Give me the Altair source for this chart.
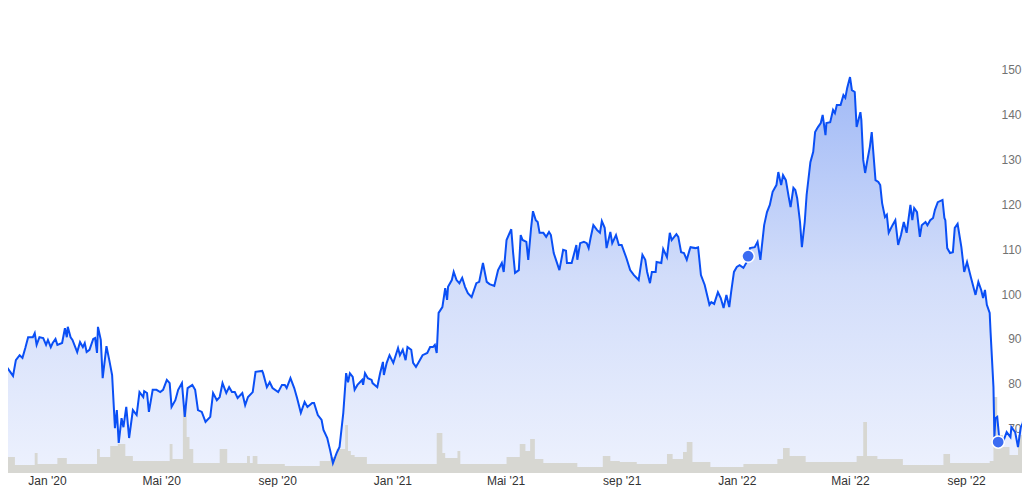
import altair as alt
import pandas as pd

START = pd.Timestamp("2019-11-12")

# price series: day offset from START, closing price
price_days = [0,4,5,6,8,11,14,17,21,24,27,30,35,37,39,42,46,49,51,54,56,59,61,66,69,71,72,75,77,82,85,88,90,92,95,99,101,103,104,107,109,113,116,119,122,124,126,129,131,134,137,141,145,148,152,153,156,158,162,166,170,173,177,180,182,186,189,193,196,199,204,207,210,214,218,223,226,230,233,236,240,243,246,249,252,257,260,263,268,271,278,279,283,286,289,295,299,302,304,308,312,315,319,323,326,331,333,337,341,343,347,350,353,357,360,364,367,369,371,374,376,379,384,385,387,390,394,395,400,403,406,407,410,413,417,422,424,427,430,432,436,438,441,444,448,453,456,459,461,463,465,469,472,474,475,479,481,484,487,490,493,496,500,505,508,512,516,519,524,528,532,534,537,542,544,546,550,552,554,558,560,563,565,568,570,572,576,579,582,584,587,593,597,600,601,606,611,612,615,619,622,624,626,629,633,636,638,641,643,647,649,653,656,659,664,668,672,677,681,684,686,689,691,695,696,701,703,707,710,712,717,719,722,725,728,731,732,737,740,743,747,752,754,757,761,764,767,770,773,775,778,781,784,788,791,795,800,803,806,810,813,816,819,823,825,828,830,833,836,838,841,843,845,848,850,853,855,859,862,864,867,870,872,875,876,880,883,885,887,891,894,896,898,901,903,906,908,912,913,915,917,919,922,924,928,931,933,935,938,940,942,946,949,952,955,958,961,965,967,969,972,975,977,981,983,986,989,991,994,999,1001,1002,1004,1007,1010,1012,1015,1019,1022,1025,1029,1034,1037,1040,1042,1044,1046,1049,1050,1053,1054,1055,1057,1059,1061,1064,1067,1071,1072,1076,1079,1082,1084,1087,1090,1092]
price_vals = [95.3,94.7,94.2,83.1,83.6,82.7,81.8,85.3,86.4,85.8,88.0,90.4,90.4,91.3,88.7,90.4,90.2,88.7,89.8,88.2,89.1,90.0,88.7,89.1,92.4,90.4,92.7,90.4,89.8,87.1,89.3,88.2,89.1,87.1,87.6,90.0,90.2,86.9,92.7,89.8,81.3,88.4,85.3,82.0,70.2,74.2,66.9,72.4,70.4,74.9,68.0,74.2,73.1,78.2,77.1,78.4,78.0,73.8,78.7,78.7,78.2,78.7,80.9,80.2,74.9,76.4,78.7,80.2,72.7,79.1,79.8,78.7,74.2,73.8,71.6,72.7,78.0,76.4,77.1,80.2,78.0,79.3,78.2,78.2,76.9,78.0,75.3,77.1,78.2,82.7,82.9,82.4,79.3,80.4,79.1,78.2,79.8,79.8,79.1,81.3,79.1,76.9,73.6,76.0,74.9,75.8,75.8,73.1,72.0,69.8,68.0,65.3,62.4,64.7,66.0,73.6,82.4,80.4,82.4,81.6,78.7,79.8,80.9,79.8,82.4,81.3,80.9,80.2,79.3,82.4,84.9,82.0,84.7,86.4,84.7,88.0,86.4,87.6,85.3,88.2,87.6,84.7,83.8,84.9,86.4,86.9,88.2,88.2,88.7,86.9,95.8,97.1,101.3,98.7,101.6,103.1,104.9,103.1,102.4,103.6,101.6,100.2,99.3,102.4,102.7,106.9,102.7,102.2,101.8,105.3,106.9,104.9,112.0,114.4,109.1,104.7,105.3,113.1,112.0,111.6,107.6,114.7,118.4,116.4,116.0,113.6,113.6,112.7,113.8,113.1,109.1,105.3,109.8,109.6,106.9,106.9,110.9,107.6,111.3,111.6,111.3,110.2,112.4,115.3,114.2,113.6,116.2,114.7,110.2,113.8,111.3,113.1,110.9,110.9,108.0,105.3,104.2,103.1,108.7,107.6,104.9,102.4,104.9,104.9,107.1,106.9,110.0,108.2,113.6,112.0,113.3,112.7,109.3,109.1,107.6,109.8,110.4,110.2,110.4,104.2,102.0,97.6,98.2,97.8,100.4,99.1,96.9,99.8,97.1,100.4,104.9,106.0,106.4,105.8,106.9,110.2,110.4,111.6,107.6,115.3,118.2,119.8,122.7,124.2,127.1,124.2,126.4,125.3,121.6,119.3,123.6,123.1,121.3,116.0,110.4,116.0,122.0,129.3,131.6,136.0,137.1,138.0,139.8,135.3,138.0,138.2,140.9,140.2,142.0,142.0,144.2,143.6,145.8,148.2,145.3,144.9,137.1,140.4,138.7,129.8,126.9,129.3,132.7,136.0,125.3,124.9,124.2,120.2,117.1,117.6,113.6,115.3,116.4,110.9,113.1,116.0,113.6,119.8,116.4,119.1,118.2,112.7,115.3,116.0,115.3,116.4,116.9,118.7,120.4,120.9,116.9,116.4,110.2,109.1,109.3,114.7,115.6,110.4,104.9,107.1,103.8,99.8,102.7,100.9,99.1,100.9,97.6,95.8,91.3,79.3,68.2,72.4,72.7,68.2,67.6,67.6,69.3,68.2,70.4,69.3,66.0,70.4,71.3,76.0,74.2,74.7]

# trading volume (millions), step series
vol_days = [0,5,8,16,37,40,61,71,103,106,117,125,133,141,180,183,194,198,201,205,233,241,262,265,268,273,302,339,350,357,366,369,372,376,389,463,469,472,485,488,537,551,557,562,567,576,612,639,647,657,675,707,713,724,728,734,753,788,824,830,837,854,908,915,919,930,957,1000,1007,1049,1053,1057,1063,1070,1079,1084,1092]
vol_vals = [0.9,7.5,1.6,0.8,2.0,0.9,1.5,0.9,2.4,1.6,2.7,2.9,1.7,1.2,2.9,1.4,6.6,3.6,2.4,1.0,2.4,1.0,1.7,1.0,1.7,0.9,0.7,1.2,1.6,2.4,4.8,2.2,1.8,1.6,0.9,4.0,2.0,1.5,2.2,0.9,1.6,2.9,2.2,3.4,1.4,1.0,0.6,1.7,1.2,1.1,0.9,1.9,1.4,2.1,3.1,1.1,0.6,0.9,1.4,2.5,1.7,1.1,1.7,5.1,1.7,1.4,0.8,1.9,1.0,1.2,7.6,3.8,2.6,1.8,3.8,1.6,1.6]

# event markers
mark_days = [793, 1058]
mark_vals = [108.4, 67.1]

# x-axis tick months
tick_dates = ["2020-01-01","2020-05-01","2020-09-01","2021-01-01","2021-05-01","2021-09-01","2022-01-01","2022-05-01","2022-09-01"]
y_ticks = [70, 80, 90, 100, 110, 120, 130, 140, 150]

price = pd.DataFrame({"date": START + pd.to_timedelta(price_days, unit="D"), "close": price_vals})
vol = pd.DataFrame({"date": START + pd.to_timedelta(vol_days, unit="D"), "volume": vol_vals})
marks = pd.DataFrame({"date": START + pd.to_timedelta(mark_days, unit="D"), "close": mark_vals})

def dt(s):
    t = pd.Timestamp(s)
    return alt.DateTime(year=t.year, month=t.month, date=t.day)

x_dom = [alt.DateTime(year=2019, month=11, date=20, hours=16),
         alt.DateTime(year=2022, month=10, date=30, hours=6)]
x_scale = alt.Scale(domain=x_dom)
y_scale = alt.Scale(domain=[60.22, 163.56], nice=False, zero=False)

label_expr = ("(month(datum.value)==0 ? 'Jan' : month(datum.value)==4 ? 'Mai' : 'sep')"
              " + \" '\" + timeFormat(datum.value, '%y')")

x_axis = alt.Axis(values=[dt(s) for s in tick_dates], labelExpr=label_expr, title=None,
                  domain=False, ticks=False, grid=False, labelPadding=2,
                  labelFontSize=12, labelColor="#333333", labelFont="Liberation Sans",
                  labelFlush=False, labelOverlap=False)
y_axis = alt.Axis(values=y_ticks, orient="right", title=None, domain=False, ticks=False,
                  grid=False, labelAlign="right", labelPadding=-1, labelFontSize=12,
                  labelColor="#727272", labelFont="Liberation Sans", labelBaseline="middle")

X = alt.X("date:T", scale=x_scale, axis=x_axis)

area = alt.Chart(price).mark_area(
    clip=True,
    color=alt.Gradient(
        gradient="linear",
        stops=[alt.GradientStop(color="#ffffff", offset=0),
               alt.GradientStop(color="#f2f5fe", offset=0.35),
               alt.GradientStop(color="#d2ddfa", offset=0.7),
               alt.GradientStop(color="#a0b9f6", offset=1)],
        x1=1, x2=1, y1=1, y2=0),
).encode(x=X, y=alt.Y("close:Q", scale=y_scale, axis=y_axis))

volume = alt.Chart(vol).mark_area(clip=True, interpolate="step-after", color="#d7d7d2").encode(
    x=X, y=alt.Y("volume:Q", scale=alt.Scale(domain=[0, 46.5], nice=False), axis=None))

line = alt.Chart(price).mark_line(clip=True, color="#0a4ff5", strokeWidth=2).encode(
    x=X, y=alt.Y("close:Q", scale=y_scale, axis=None))

pts = alt.Chart(marks).mark_circle(size=150, color="#3b6cf2", opacity=1, stroke="white",
                                   strokeWidth=1.5).encode(
    x=X, y=alt.Y("close:Q", scale=y_scale, axis=None))

chart = alt.layer(area, volume, line, pts).resolve_scale(y="independent").properties(
    width=1014, height=465,
    autosize=alt.AutoSizeParams(type="none"),
    padding={"left": 0, "top": 0, "right": 0, "bottom": 14},
).configure(background="white").configure_view(stroke=None, strokeWidth=0)

chart.save("out.html", embed_options={"renderer": "svg", "actions": False})
